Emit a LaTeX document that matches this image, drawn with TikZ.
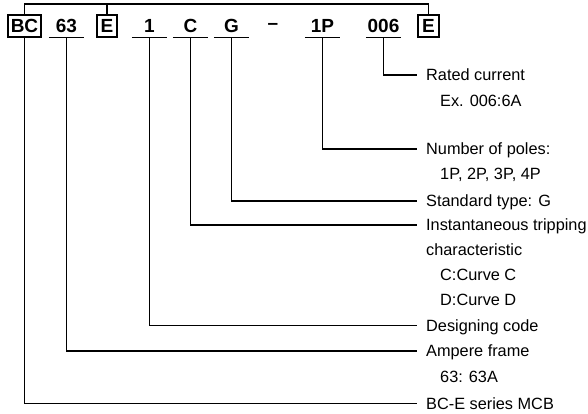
\documentclass[tikz,border=0pt]{standalone}
\usepackage{fontspec}
\setmainfont{Liberation Sans}
\begin{document}
\begin{tikzpicture}[x=1pt,y=-1pt,
  hd/.style={font=\fontsize{19}{19}\selectfont\bfseries, inner sep=0pt, minimum height=22pt, anchor=center},
  boxed/.style={hd, draw, line width=1.2pt},
  lbl/.style={font=\fontsize{16.3}{19}\selectfont, inner sep=0pt, text height=11.7pt, text depth=0pt, anchor=west},
  ln/.style={line width=1.2pt},
]
\useasboundingbox (0,0) rectangle (588,414);
% header
\node[boxed, minimum width=33pt] (bc) at (24.5,26) {BC};
\node[hd, minimum width=35pt] (n63) at (66.5,26) {63};
\node[boxed, minimum width=20pt] (e1) at (107,26) {E};
\node[hd, minimum width=35pt] (n1) at (149.5,26) {1};
\node[hd, minimum width=35pt] (nc) at (190.5,26) {C};
\node[hd, minimum width=35pt] (ng) at (231.5,26) {G};
\node[hd] (dash) at (273,26) {--};
\node[hd, minimum width=35pt] (n1p) at (322.5,26) {1P};
\node[hd, minimum width=35pt] (n006) at (383.5,26) {006};
\node[boxed, minimum width=21pt] (e2) at (428.5,26) {E};
\coordinate (top) at (0,4);
% underlines
\foreach \n in {n63,n1,nc,ng,n1p,n006}
  \draw[ln] (\n.south west) -- (\n.south east);
% top bracket
\draw[ln] (bc.north) -- (bc.north |- top) -| (e2.north);
\draw[ln] (e1.north) -- (e1.north |- top);
% labels
\node[lbl] (rated) at (426,75) {Rated current};
\node[lbl] (ex) at (440,101) {Ex. 006:6A};
\node[lbl] (poles) at (426,149) {Number of poles:};
\node[lbl] (poles2) at (440,174) {1P, 2P, 3P, 4P};
\node[lbl] (std) at (426,201) {Standard type: G};
\node[lbl] (inst) at (426,225) {Instantaneous tripping};
\node[lbl] (char) at (426,250) {characteristic};
\node[lbl] (cc) at (440,274.5) {C:Curve C};
\node[lbl] (cd) at (440,299.5) {D:Curve D};
\node[lbl] (des) at (426,325.5) {Designing code};
\node[lbl] (amp) at (426,351) {Ampere frame};
\node[lbl] (a63) at (440,377) {63: 63A};
\node[lbl] (bce) at (426,403.5) {BC-E series MCB};
% connectors
\draw[ln] (n006.south) |- ([xshift=-9pt]rated.west);
\draw[ln] (n1p.south) |- ([xshift=-9pt]poles.west);
\draw[ln] (ng.south) |- ([xshift=-9pt]std.west);
\draw[ln] (nc.south) |- ([xshift=-9pt]inst.west);
\draw[ln] (n1.south) |- ([xshift=-9pt]des.west);
\draw[ln] (n63.south) |- ([xshift=-9pt]amp.west);
\draw[ln] (bc.south) |- ([xshift=-9pt]bce.west);
\end{tikzpicture}
\end{document}
